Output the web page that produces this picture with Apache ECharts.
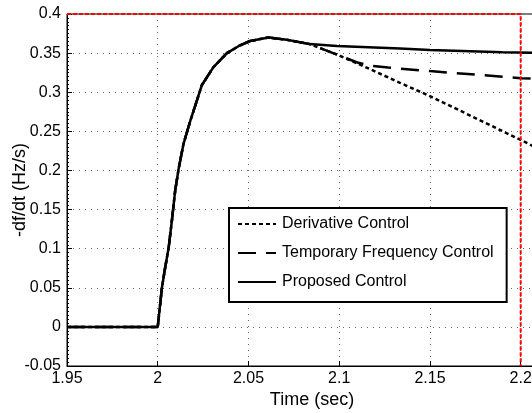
<!DOCTYPE html>
<html>
<head>
<meta charset="utf-8">
<script src="https://cdn.jsdelivr.net/npm/echarts@6/dist/echarts.min.js"></script>
<style>
html, body { margin: 0; padding: 0; background: #fff; }
#chart { width: 532px; height: 413px; }
</style>
</head>
<body>
<div id="chart"></div>
<script>
// shared part of all three responses (before they split)
var riseTime = [1.95, 2.0, 2.0023, 2.0041, 2.006, 2.0078, 2.0096, 2.0115, 2.0142, 2.0179,
    2.0243, 2.0307, 2.0381, 2.0454, 2.0509, 2.061, 2.0711, 2.0838];
var riseRate = [0, 0, 0.05, 0.076, 0.101, 0.136, 0.174, 0.202, 0.234, 0.263,
    0.309, 0.332, 0.350, 0.360, 0.3655, 0.370, 0.367, 0.3615];

var derivTime = [2.1005, 2.117, 2.1335, 2.15, 2.2, 2.22];
var derivRate = [0.3465, 0.3295, 0.312, 0.295, 0.239, 0.216];

var tempTime = [2.1005, 2.11, 2.117, 2.127, 2.15, 2.2, 2.22];
var tempRate = [0.3465, 0.338, 0.334, 0.3315, 0.327, 0.318, 0.316];

var propTime = [2.0987, 2.1335, 2.15, 2.19, 2.22];
var propRate = [0.359, 0.356, 0.354, 0.351, 0.350];

var boxTime = [1.95, 2.2, 2.2];
var boxRate = [0.4, 0.4, -0.05];

var names = ['Derivative Control', 'Temporary Frequency Control', 'Proposed Control'];

function pairs(xs, ys) {
    var out = [];
    for (var i = 0; i < xs.length; i++) out.push([xs[i], ys[i]]);
    return out;
}

var rise = pairs(riseTime, riseRate);
var font = 'Liberation Sans, Arial, sans-serif';
var gridLine = { show: true, lineStyle: { color: '#666', type: [1, 5], width: 1 } };

var chart = echarts.init(document.getElementById('chart'), null, { renderer: 'canvas' });
chart.setOption({
    animation: false,
    backgroundColor: '#fff',
    grid: {
        left: 67, top: 14, bottom: 47, width: 490,
        outerBoundsMode: 'none', containLabel: false,
        show: true, borderColor: '#000', borderWidth: 1, backgroundColor: 'transparent'
    },
    xAxis: {
        type: 'value', min: 1.95, max: 2.22, interval: 0.05,
        name: 'Time (sec)', nameLocation: 'middle', nameGap: 25, nameMoveOverlap: false,
        nameTextStyle: { color: '#000', fontSize: 18, fontFamily: font },
        axisLine: { onZero: false, lineStyle: { color: '#000', width: 1 } },
        axisTick: { inside: true, length: 5, lineStyle: { color: '#000' } },
        axisLabel: { color: '#000', fontSize: 16, fontFamily: font, margin: 5,
            showMaxLabel: false,
            formatter: function (v) { return +v.toFixed(2) + ''; } },
        splitLine: gridLine
    },
    yAxis: {
        type: 'value', min: -0.05, max: 0.4, interval: 0.05,
        name: '-df/dt (Hz/s)', nameLocation: 'middle', nameGap: 38, nameMoveOverlap: false,
        nameTextStyle: { color: '#000', fontSize: 18, fontFamily: font },
        axisLine: { show: true, onZero: false, lineStyle: { color: '#000', width: 1 } },
        axisTick: { inside: true, length: 5, lineStyle: { color: '#000' } },
        minorTick: { show: true, splitNumber: 10, length: 2, lineStyle: { color: '#000' } },
        axisLabel: { color: '#000', fontSize: 16, fontFamily: font, margin: 6,
            formatter: function (v) { return +v.toFixed(2) + ''; } },
        splitLine: gridLine
    },
    legend: {
        data: names,
        orient: 'vertical', left: 229, top: 208,
        padding: [8, 13, 12, 8],
        itemWidth: 38, itemHeight: 14, itemGap: 13,
        itemStyle: { opacity: 0, borderWidth: 0 },
        backgroundColor: '#fff', borderColor: '#000', borderWidth: 2,
        textStyle: { color: '#000', fontSize: 16, fontFamily: font, padding: [0, 0, 0, 1] }
    },
    series: [
        {
            name: names[0], type: 'line', symbol: 'none', z: 3,
            data: rise.concat(pairs(derivTime, derivRate)),
            lineStyle: { color: '#000', width: 2.5, type: [4, 3] }
        },
        {
            name: names[1], type: 'line', symbol: 'none', z: 4,
            data: rise.concat(pairs(tempTime, tempRate)),
            lineStyle: { color: '#000', width: 2.5, type: [18, 10] }
        },
        {
            name: names[2], type: 'line', symbol: 'none', z: 5,
            data: rise.concat(pairs(propTime, propRate)),
            lineStyle: { color: '#000', width: 2.5, type: 'solid' }
        },
        {
            name: 'box', type: 'line', symbol: 'none', z: 6, clip: false, silent: true,
            data: pairs(boxTime, boxRate),
            lineStyle: { color: '#f00', width: 2, type: [4, 2] }
        }
    ]
});
</script>
</body>
</html>
